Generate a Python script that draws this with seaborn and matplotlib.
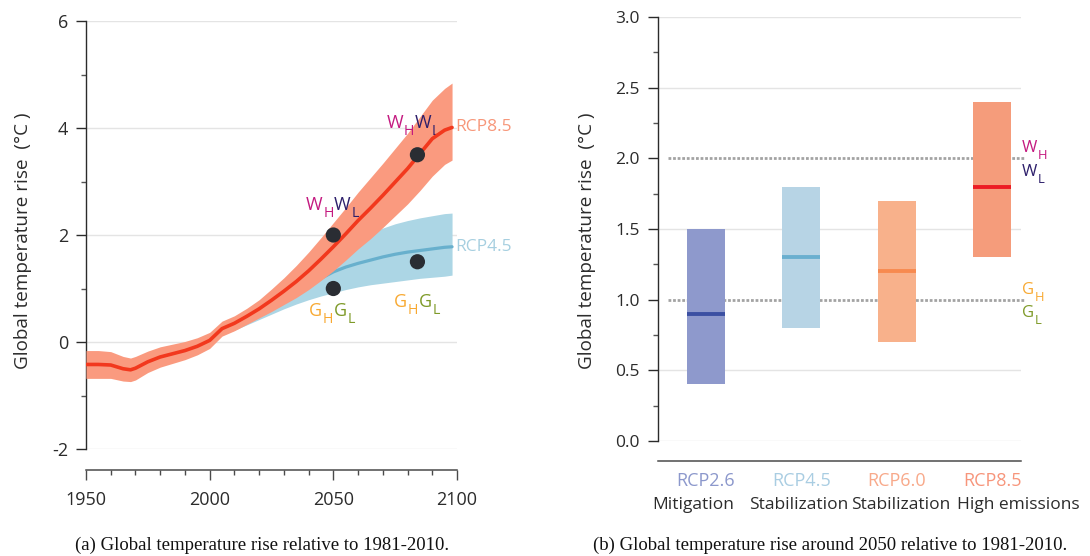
import matplotlib
matplotlib.use("Agg")
import matplotlib.pyplot as plt
import matplotlib.transforms as mtransforms
from matplotlib.ticker import MultipleLocator, FormatStrFormatter
import pandas as pd
import seaborn as sns

# ---------------------------------------------------------------- data
# (a) global temperature rise relative to 1981-2010 (degC)
years_85 = [1950, 1955, 1960, 1965, 1968, 1970, 1975, 1980, 1985, 1990, 1995,
            2000, 2005, 2010, 2015, 2020, 2025, 2030, 2035, 2040, 2045, 2050,
            2055, 2060, 2065, 2070, 2075, 2080, 2085, 2090, 2095, 2098]
rcp85_mean = [-0.42, -0.42, -0.43, -0.50, -0.52, -0.49, -0.37, -0.28, -0.22, -0.16, -0.08,
              0.03, 0.25, 0.35, 0.48, 0.62, 0.78, 0.95, 1.13, 1.33, 1.55, 1.78,
              2.02, 2.27, 2.50, 2.74, 2.99, 3.24, 3.52, 3.80, 3.96, 4.01]
rcp85_upper = [-0.16, -0.16, -0.18, -0.27, -0.30, -0.27, -0.17, -0.09, -0.04, 0.01, 0.08,
               0.18, 0.39, 0.49, 0.63, 0.79, 0.99, 1.20, 1.43, 1.68, 1.95, 2.23,
               2.51, 2.80, 3.07, 3.34, 3.62, 3.90, 4.21, 4.52, 4.74, 4.84]
rcp85_lower = [-0.68, -0.68, -0.68, -0.73, -0.74, -0.71, -0.57, -0.47, -0.40, -0.33, -0.24,
               -0.12, 0.11, 0.21, 0.33, 0.45, 0.57, 0.70, 0.83, 0.98, 1.15, 1.33,
               1.53, 1.74, 1.93, 2.14, 2.36, 2.58, 2.83, 3.10, 3.32, 3.40]

years_45 = [2005, 2010, 2015, 2020, 2025, 2030, 2035, 2040, 2045, 2050,
            2055, 2060, 2065, 2070, 2075, 2080, 2085, 2090, 2095, 2098]
rcp45_mean = [0.24, 0.34, 0.46, 0.58, 0.70, 0.82, 0.94, 1.06, 1.19, 1.31,
              1.40, 1.47, 1.53, 1.59, 1.64, 1.68, 1.71, 1.74, 1.77, 1.78]
rcp45_upper = [0.30, 0.42, 0.56, 0.70, 0.86, 1.02, 1.18, 1.36, 1.52, 1.68,
               1.82, 1.95, 2.04, 2.13, 2.21, 2.27, 2.32, 2.36, 2.40, 2.41]
rcp45_lower = [0.14, 0.22, 0.32, 0.42, 0.52, 0.62, 0.71, 0.79, 0.86, 0.92,
               0.98, 1.03, 1.07, 1.10, 1.13, 1.16, 1.19, 1.21, 1.23, 1.25]

# KNMI'14 scenario points: W (warm) on RCP8.5, G (moderate) on RCP4.5
scenario_years = [2050, 2084, 2050, 2084]
scenario_values = [2.0, 3.5, 1.0, 1.5]
scenario_names = ["W", "W", "G", "G"]

# (b) global temperature rise around 2050 (degC)
rcp_names = ["RCP2.6", "RCP4.5", "RCP6.0", "RCP8.5"]
pathways = ["Mitigation", "Stabilization", "Stabilization", "High emissions"]
range_low = [0.4, 0.8, 0.7, 1.3]
range_high = [1.5, 1.8, 1.7, 2.4]
range_median = [0.9, 1.3, 1.2, 1.8]
thresholds = [1.0, 2.0]
threshold_names = ["G", "W"]

# ---------------------------------------------------------------- style
sns.set_theme(style="ticks")
plt.rcParams["font.family"] = ["Open Sans", "DejaVu Sans"]
plt.rcParams["axes.unicode_minus"] = False

INK = "#2b2b2b"
GRID = "#e4e4e4"
RED_BAND, RED_LINE, RED_TEXT = "#fa9a7f", "#f2381d", "#f7977a"
BLUE_BAND, BLUE_LINE, BLUE_TEXT = "#acd6e5", "#68b0cd", "#a6cfe0"
DOT = "#2a2d33"
W_HIGH, W_LOW = "#c41a80", "#2d1f6b"
G_HIGH, G_LOW = "#f8a932", "#7e9a28"
bar_colors = ["#8e99cc", "#b7d4e5", "#f8b18b", "#f59c7b"]
median_colors = ["#3b4fa2", "#6aafcf", "#f78a50", "#ec1c24"]
name_colors = ["#8c98cc", "#a9cde2", "#f8a98a", "#f7957b"]
label_colors = {"W": (W_HIGH, W_LOW), "G": (G_HIGH, G_LOW)}

FW, FH = 1090, 556
DPI = 100
fig = plt.figure(figsize=(FW / DPI, FH / DPI), dpi=DPI)
renderer = fig.canvas.get_renderer()


def rect(left, top, right, bottom):
    return [left / FW, 1 - bottom / FH, (right - left) / FW, (bottom - top) / FH]


ax1 = fig.add_axes(rect(86, 21, 457, 449))
ax2 = fig.add_axes(rect(658, 17, 1021, 441))


def style_axes(ax, ticksize):
    ax.spines[["top", "right"]].set_visible(False)
    ax.spines["left"].set_color(INK)
    ax.spines["left"].set_linewidth(1.0)
    ax.spines["bottom"].set_position(("outward", 15))
    ax.spines["bottom"].set_color("#4a4a4a")
    ax.spines["bottom"].set_linewidth(1.1)
    ax.tick_params(axis="y", which="major", direction="out", length=7, width=1,
                   color=INK, pad=6, labelsize=ticksize, labelcolor=INK)
    ax.tick_params(axis="y", which="minor", direction="out", length=3.5, width=1,
                   color="#555555")
    ax.set_facecolor("none")


def subscripted(ax, x, y, letter, colors, dx, dy, size, coords="data",
                align="center"):
    """Letter+subscript pairs (e.g. W_H W_L) set piece by piece on one baseline."""
    pieces = [(letter, colors[0], size, 0.0), ("H", colors[0], size * 0.78, -5.0),
              (letter, colors[1], size, 0.0), ("L", colors[1], size * 0.78, -5.0)]
    artists, cursor = [], 0.0
    for txt, col, sz, drop in pieces:
        t = ax.annotate(txt, xy=(x, y), xycoords=coords, xytext=(cursor, dy + drop),
                        textcoords="offset points", ha="left", va="baseline",
                        color=col, fontsize=sz)
        width_pt = t.get_window_extent(renderer).width * 72 / DPI
        artists.append((t, cursor, dy + drop))
        cursor += width_pt + 0.4
    shift = dx - (cursor / 2 if align == "center" else 0)
    for t, cx, cy in artists:
        t.set_position((cx + shift, cy))


def stacked(ax, x, y, letter, colors, dx, dy_top, dy_bottom, size, coords):
    """Letter_H above letter_L, left aligned."""
    for sub, col, dy in (("H", colors[0], dy_top), ("L", colors[1], dy_bottom)):
        t = ax.annotate(letter, xy=(x, y), xycoords=coords, xytext=(dx, dy),
                        textcoords="offset points", ha="left", va="baseline",
                        color=col, fontsize=size)
        w = t.get_window_extent(renderer).width * 72 / DPI
        ax.annotate(sub, xy=(x, y), xycoords=coords, xytext=(dx + w + 0.4, dy - 5),
                    textcoords="offset points", ha="left", va="baseline",
                    color=col, fontsize=size * 0.78)


# ---------------------------------------------------------------- panel (a)
df85 = pd.DataFrame({"year": years_85, "mean": rcp85_mean,
                     "lo": rcp85_lower, "hi": rcp85_upper})
df45 = pd.DataFrame({"year": years_45, "mean": rcp45_mean,
                     "lo": rcp45_lower, "hi": rcp45_upper})

for yv in [-2, 0, 2, 4, 6]:
    ax1.axhline(yv, color=GRID, lw=1, zorder=0)

ax1.fill_between(df45["year"], df45["lo"], df45["hi"], color=BLUE_BAND, lw=0, zorder=1)
sns.lineplot(data=df45, x="year", y="mean", ax=ax1, color=BLUE_LINE, lw=2.3, zorder=2)
ax1.fill_between(df85["year"], df85["lo"], df85["hi"], color=RED_BAND, lw=0, zorder=3)
sns.lineplot(data=df85, x="year", y="mean", ax=ax1, color=RED_LINE, lw=2.6, zorder=4)

pts = pd.DataFrame({"year": scenario_years, "value": scenario_values})
sns.scatterplot(data=pts, x="year", y="value", ax=ax1, s=120, color=DOT,
                edgecolor="none", zorder=5)

ax1.set_xlim(1950, 2100)
ax1.set_ylim(-2, 6)

# label offsets (points) around each scenario dot
label_offsets = [(-0.5, 18), (-3, 19.5), (-1, -19.5), (0, -32.5)]
for yr, val, nm, (dx, dy) in zip(scenario_years, scenario_values, scenario_names,
                                 label_offsets):
    subscripted(ax1, yr, val, nm, label_colors[nm], dx, dy, 13)

ax1.annotate("RCP8.5", xy=(years_85[-1], rcp85_mean[-1]), xytext=(2.5, 0),
             textcoords="offset points", ha="left", va="center",
             color=RED_TEXT, fontsize=12.5)
ax1.annotate("RCP4.5", xy=(years_45[-1], rcp45_mean[-1]), xytext=(2.5, 0),
             textcoords="offset points", ha="left", va="center",
             color=BLUE_TEXT, fontsize=12.5)

style_axes(ax1, 13)
ax1.yaxis.set_major_locator(MultipleLocator(2))
ax1.yaxis.set_minor_locator(MultipleLocator(1))
ax1.xaxis.set_major_locator(MultipleLocator(50))
ax1.xaxis.set_minor_locator(MultipleLocator(10))
ax1.tick_params(axis="x", which="major", direction="out", length=7, width=1,
                color="#4a4a4a", pad=8, labelsize=13, labelcolor=INK)
ax1.tick_params(axis="x", which="minor", direction="out", length=3.5, width=1,
                color="#4a4a4a")
ax1.set_xlabel("")
ax1.set_ylabel("Global temperature rise  (°C )", fontsize=13.6, color=INK)
ax1.yaxis.set_label_coords(-0.146, 0.486)

# ---------------------------------------------------------------- panel (b)
for yv in [0, 0.5, 1.5, 2.5, 3.0]:
    ax2.axhline(yv, color=GRID, lw=1, zorder=0)

ax2.hlines(thresholds, -0.4, 3.34, colors="#a3a3a3", lw=2.0,
           linestyles=(0, (1.0, 0.65)), zorder=1, clip_on=False)

xs = list(range(len(rcp_names)))
heights = [h - l for h, l in zip(range_high, range_low)]
ax2.bar(xs, heights, bottom=range_low, width=0.4, color=bar_colors, lw=0, zorder=2)
ax2.hlines(range_median, [x - 0.2 for x in xs], [x + 0.2 for x in xs],
           colors=median_colors, lw=2.8, zorder=3)

ax2.set_xlim(-0.5, 3.3)
ax2.set_ylim(0, 3)
style_axes(ax2, 12.5)
ax2.spines["bottom"].set_position(("outward", 14.5))
ax2.yaxis.set_major_locator(MultipleLocator(0.5))
ax2.yaxis.set_minor_locator(MultipleLocator(0.25))
ax2.yaxis.set_major_formatter(FormatStrFormatter("%.1f"))
ax2.set_xticks(xs)
ax2.set_xticklabels(rcp_names, fontsize=13)
for lbl, c in zip(ax2.get_xticklabels(), name_colors):
    lbl.set_color(c)
ax2.tick_params(axis="x", length=0, pad=8)
ax2.set_ylabel("Global temperature rise  (°C )", fontsize=13.6, color=INK)
ax2.yaxis.set_label_coords(-0.171, 0.472)

xdata_yaxes = mtransforms.blended_transform_factory(ax2.transData, ax2.transAxes)
pathway_shift = [-9, -2, 3, 19]
for x, name, sh in zip(xs, pathways, pathway_shift):
    ax2.annotate(name, xy=(x, 0), xycoords=xdata_yaxes, xytext=(sh, -46),
                 textcoords="offset points", ha="center", va="center",
                 color=INK, fontsize=12.5)

xaxes_ydata = mtransforms.blended_transform_factory(ax2.transAxes, ax2.transData)
for thr, nm in zip(thresholds, threshold_names):
    stacked(ax2, 1.0, thr, nm, label_colors[nm], 0.5, 4.3, -12.5, 12, xaxes_ydata)

# ---------------------------------------------------------------- captions
fig.text(262 / FW, 1 - 545 / FH, "(a) Global temperature rise relative to 1981-2010.",
         ha="center", va="center", fontsize=13.5, family="Liberation Serif", color="#111111")
fig.text(830 / FW, 1 - 545 / FH,
         "(b) Global temperature rise around 2050 relative to 1981-2010.",
         ha="center", va="center", fontsize=13.5, family="Liberation Serif", color="#111111")

fig.savefig("out.png", dpi=DPI, facecolor="white")
